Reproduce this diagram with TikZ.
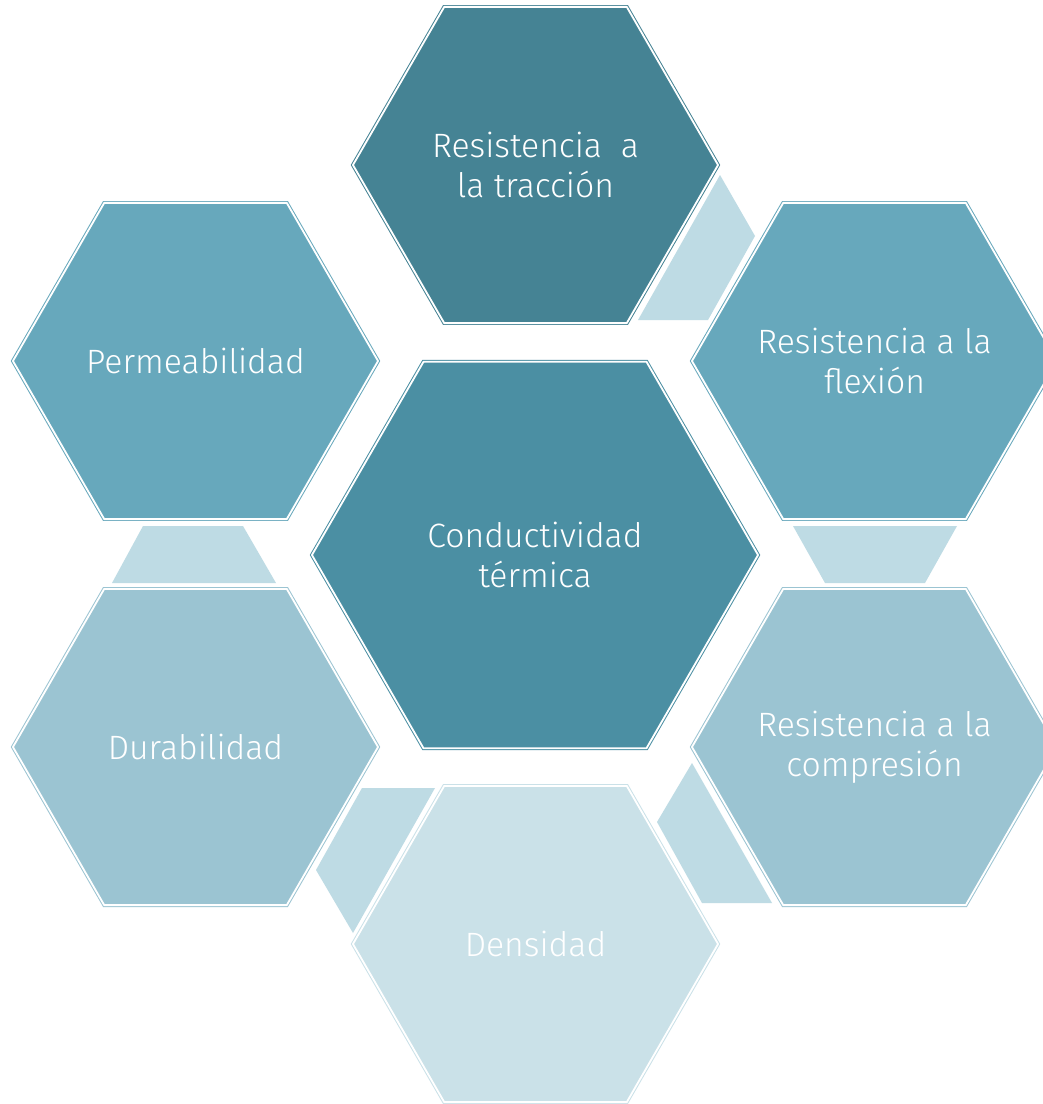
\documentclass[tikz,border=0pt]{standalone}
\usepackage{fontspec}
\setmainfont{Fira Sans Light}
\usetikzlibrary{shapes.geometric}
\definecolor{hexdark}{RGB}{69,131,148}
\definecolor{hexmid}{RGB}{75,143,163}
\definecolor{hexblue}{RGB}{103,168,188}
\definecolor{hexpale}{RGB}{155,196,210}
\definecolor{hexlight}{RGB}{202,225,232}
\definecolor{linkfill}{RGB}{190,219,228}

\tikzset{
  hexa/.style={regular polygon, regular polygon sides=6, inner sep=0pt,
    minimum size=9.125cm, line width=0.7pt, double=white,
    double distance=1.3pt},
  bighexa/.style={hexa, minimum size=11.15cm},
  hextext/.style={text=white, align=center,
    font=\fontsize{24}{28.5}\selectfont}
}

\begin{document}
\begin{tikzpicture}[x=0.025cm, y=-0.025cm]
    \clip (0,0) rectangle (1043,1104);
    \fill[white] (0,0) rectangle (1043,1104);

    % small pieces between the outer hexagons
    \fill[linkfill] (720,175) -- (755,236) -- (708,320) -- (638,320) -- cycle;
    \fill[linkfill] (793,526) -- (957,526) -- (925,583) -- (825,583) -- cycle;
    \fill[linkfill] (692,763) -- (772,903) -- (702,903) -- (657,822) -- cycle;
    \fill[linkfill] (362,788) -- (435,788) -- (353,933) -- (316,870) -- cycle;
    \fill[linkfill] (143,526) -- (243,526) -- (276,583) -- (112,583) -- cycle;

    % outer ring
    \node[hexa, draw=hexdark, fill=hexdark] (traccion) at (535.5,165)
        [label={[hextext]center:Resistencia~ a\\la tracción}] {};
    \node[hexa, draw=hexblue, fill=hexblue] (flexion) at (874.5,361)
        [label={[hextext]center:Resistencia a la\\flexión}] {};
    \node[hexa, draw=hexpale, fill=hexpale] (compresion) at (874.5,747)
        [label={[hextext]center:Resistencia a la\\compresión}] {};
    \node[hexa, draw=hexlight, fill=hexlight] (densidad) at (535.5,944)
        [label={[hextext]center:Densidad}] {};
    \node[hexa, draw=hexpale, fill=hexpale] (durabilidad) at (195.5,747)
        [label={[hextext]center:Durabilidad}] {};
    \node[hexa, draw=hexblue, fill=hexblue] (permeab) at (195.5,361)
        [label={[hextext]center:Permeabilidad}] {};

    % middle
    \node[bighexa, draw=hexmid, fill=hexmid] (conduct) at (535,555)
        [label={[hextext]center:Conductividad\\térmica}] {};
\end{tikzpicture}
\end{document}
